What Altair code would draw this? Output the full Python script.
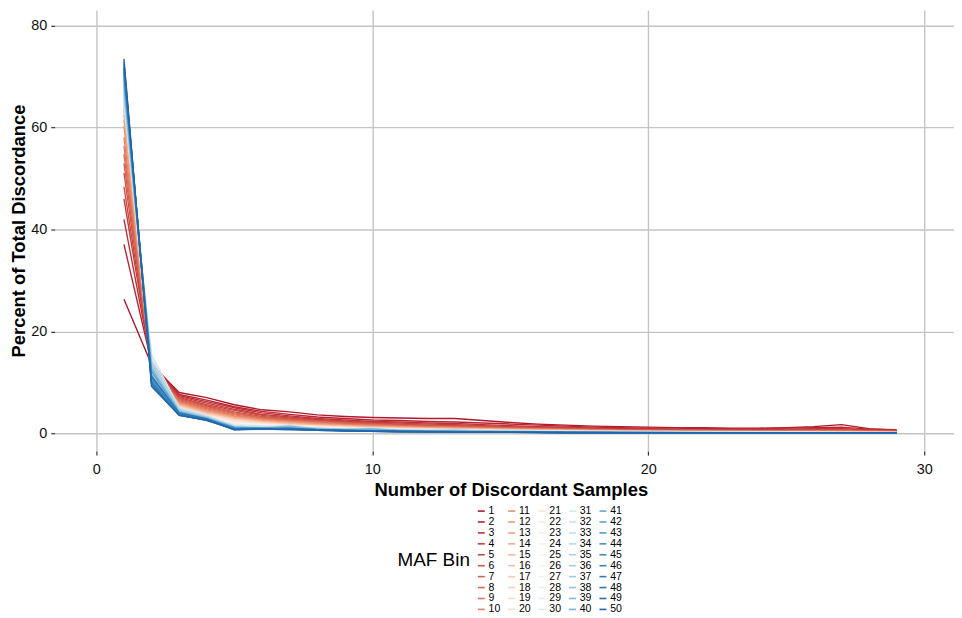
import altair as alt
import pandas as pd

# x positions: number of discordant samples
samples = list(range(1, 30))

# Percent of total discordance per MAF bin
maf_bin_1 = [26.3, 13.5, 8.0, 7.0, 5.6, 4.6, 4.2, 3.6, 3.3, 3.1, 3.0, 2.9, 2.9, 2.5, 2.1, 1.8, 1.6, 1.4, 1.3, 1.2, 1.1, 1.1, 1.0, 1.0, 1.1, 1.3, 1.7, 0.9, 0.6]
maf_bin_2 = [37.1, 13.8, 7.6, 6.5, 5.2, 4.3, 3.7, 3.2, 2.9, 2.6, 2.5, 2.3, 2.2, 2.0, 1.8, 1.6, 1.4, 1.2, 1.1, 1.0, 1.0, 0.9, 0.9, 0.9, 1.0, 1.1, 1.2, 0.8, 0.7]
maf_bin_3 = [42.0, 13.6, 7.4, 6.2, 5.0, 4.0, 3.4, 2.9, 2.6, 2.3, 2.2, 2.0, 1.9, 1.7, 1.5, 1.3, 1.2, 1.0, 0.9, 0.9, 0.8, 0.8, 0.8, 0.8, 0.8, 0.9, 0.9, 0.7, 0.6]
maf_bin_4 = [46.0, 13.4, 7.2, 5.9, 4.7, 3.7, 3.2, 2.7, 2.4, 2.1, 2.0, 1.8, 1.7, 1.5, 1.3, 1.2, 1.1, 0.9, 0.8, 0.8, 0.7, 0.7, 0.7, 0.7, 0.7, 0.8, 0.8, 0.6, 0.5]
maf_bin_5 = [48.4, 13.2, 7.0, 5.6, 4.5, 3.5, 3.0, 2.5, 2.2, 2.0, 1.8, 1.6, 1.5, 1.4, 1.2, 1.1, 1.0, 0.8, 0.7, 0.7, 0.7, 0.6, 0.6, 0.6, 0.6, 0.7, 0.7, 0.5, 0.5]
maf_bin_6 = [51.1, 13.0, 6.8, 5.4, 4.2, 3.3, 2.8, 2.4, 2.1, 1.9, 1.7, 1.5, 1.4, 1.3, 1.1, 1.0, 0.9, 0.8, 0.7, 0.6, 0.6, 0.6, 0.5, 0.5, 0.5, 0.6, 0.6, 0.5, 0.4]
maf_bin_7 = [53.0, 12.9, 6.6, 5.2, 4.0, 3.1, 2.7, 2.3, 2.0, 1.8, 1.6, 1.4, 1.3, 1.2, 1.0, 0.9, 0.8, 0.7, 0.6, 0.6, 0.5, 0.5, 0.5, 0.5, 0.5, 0.5, 0.5, 0.4, 0.4]
maf_bin_8 = [54.8, 12.8, 6.4, 5.0, 3.8, 3.0, 2.5, 2.2, 1.9, 1.7, 1.5, 1.3, 1.2, 1.1, 1.0, 0.9, 0.8, 0.7, 0.6, 0.5, 0.5, 0.5, 0.4, 0.4, 0.4, 0.5, 0.5, 0.4, 0.3]
maf_bin_9 = [56.4, 12.7, 6.2, 4.8, 3.6, 2.8, 2.4, 2.1, 1.8, 1.6, 1.4, 1.3, 1.2, 1.0, 0.9, 0.8, 0.7, 0.6, 0.5, 0.5, 0.5, 0.4, 0.4, 0.4, 0.4, 0.4, 0.4, 0.3, 0.3]
maf_bin_10 = [58.1, 12.6, 6.0, 4.6, 3.4, 2.7, 2.3, 2.0, 1.7, 1.5, 1.3, 1.2, 1.1, 1.0, 0.9, 0.8, 0.7, 0.6, 0.5, 0.5, 0.4, 0.4, 0.4, 0.4, 0.4, 0.4, 0.4, 0.3, 0.3]
maf_bin_11 = [60.3, 12.5, 5.9, 4.4, 3.3, 2.6, 2.2, 1.9, 1.6, 1.4, 1.3, 1.1, 1.0, 0.9, 0.8, 0.7, 0.6, 0.6, 0.5, 0.4, 0.4, 0.4, 0.4, 0.3, 0.3, 0.3, 0.3, 0.3, 0.3]
maf_bin_12 = [61.5, 12.4, 5.8, 4.3, 3.2, 2.5, 2.1, 1.8, 1.5, 1.3, 1.2, 1.1, 1.0, 0.9, 0.8, 0.7, 0.6, 0.5, 0.5, 0.4, 0.4, 0.4, 0.3, 0.3, 0.3, 0.3, 0.3, 0.3, 0.2]
maf_bin_13 = [62.5, 12.3, 5.7, 4.2, 3.1, 2.4, 2.0, 1.7, 1.5, 1.3, 1.2, 1.0, 0.9, 0.8, 0.7, 0.7, 0.6, 0.5, 0.5, 0.4, 0.4, 0.3, 0.3, 0.3, 0.3, 0.3, 0.3, 0.2, 0.2]
maf_bin_14 = [63.5, 12.3, 5.6, 4.1, 3.0, 2.3, 1.9, 1.6, 1.4, 1.2, 1.1, 1.0, 0.9, 0.8, 0.7, 0.6, 0.5, 0.5, 0.4, 0.4, 0.3, 0.3, 0.3, 0.3, 0.3, 0.3, 0.2, 0.2, 0.2]
maf_bin_15 = [64.0, 12.2, 5.5, 4.0, 2.9, 2.3, 1.9, 1.6, 1.4, 1.2, 1.0, 0.9, 0.8, 0.8, 0.7, 0.6, 0.5, 0.5, 0.4, 0.4, 0.3, 0.3, 0.3, 0.3, 0.3, 0.2, 0.2, 0.2, 0.2]
maf_bin_16 = [64.8, 12.2, 5.4, 3.9, 2.8, 2.2, 1.8, 1.5, 1.3, 1.1, 1.0, 0.9, 0.8, 0.7, 0.6, 0.6, 0.5, 0.4, 0.4, 0.3, 0.3, 0.3, 0.3, 0.2, 0.2, 0.2, 0.2, 0.2, 0.2]
maf_bin_17 = [65.5, 12.1, 5.3, 3.8, 2.7, 2.1, 1.7, 1.5, 1.3, 1.1, 1.0, 0.9, 0.8, 0.7, 0.6, 0.5, 0.5, 0.4, 0.4, 0.3, 0.3, 0.3, 0.2, 0.2, 0.2, 0.2, 0.2, 0.2, 0.2]
maf_bin_18 = [66.0, 12.1, 5.2, 3.7, 2.6, 2.0, 1.7, 1.4, 1.2, 1.0, 0.9, 0.8, 0.7, 0.7, 0.6, 0.5, 0.4, 0.4, 0.3, 0.3, 0.3, 0.2, 0.2, 0.2, 0.2, 0.2, 0.2, 0.2, 0.1]
maf_bin_19 = [66.5, 12.0, 5.1, 3.7, 2.6, 2.0, 1.6, 1.4, 1.2, 1.0, 0.9, 0.8, 0.7, 0.6, 0.5, 0.5, 0.4, 0.4, 0.3, 0.3, 0.2, 0.2, 0.2, 0.2, 0.2, 0.2, 0.2, 0.1, 0.1]
maf_bin_20 = [67.0, 12.0, 5.0, 3.6, 2.5, 1.9, 1.6, 1.3, 1.1, 1.0, 0.9, 0.8, 0.7, 0.6, 0.5, 0.4, 0.4, 0.3, 0.3, 0.3, 0.2, 0.2, 0.2, 0.2, 0.2, 0.2, 0.1, 0.1, 0.1]
maf_bin_21 = [67.5, 11.9, 4.9, 3.5, 2.3, 1.8, 1.5, 1.3, 1.1, 0.9, 0.8, 0.7, 0.6, 0.6, 0.5, 0.4, 0.4, 0.3, 0.3, 0.2, 0.2, 0.2, 0.2, 0.2, 0.2, 0.1, 0.1, 0.1, 0.1]
maf_bin_22 = [68.0, 11.7, 4.8, 3.4, 2.2, 1.8, 1.5, 1.2, 1.0, 0.9, 0.8, 0.7, 0.6, 0.5, 0.5, 0.4, 0.3, 0.3, 0.3, 0.2, 0.2, 0.2, 0.2, 0.2, 0.1, 0.1, 0.1, 0.1, 0.1]
maf_bin_23 = [68.5, 11.6, 4.7, 3.4, 2.1, 1.7, 1.4, 1.2, 1.0, 0.9, 0.7, 0.7, 0.6, 0.5, 0.4, 0.4, 0.3, 0.3, 0.2, 0.2, 0.2, 0.2, 0.2, 0.1, 0.1, 0.1, 0.1, 0.1, 0.1]
maf_bin_24 = [69.0, 11.5, 4.6, 3.3, 2.0, 1.7, 1.4, 1.1, 1.0, 0.8, 0.7, 0.6, 0.6, 0.5, 0.4, 0.4, 0.3, 0.3, 0.2, 0.2, 0.2, 0.2, 0.1, 0.1, 0.1, 0.1, 0.1, 0.1, 0.1]
maf_bin_25 = [69.5, 11.4, 4.5, 3.3, 2.0, 1.6, 1.3, 1.1, 0.9, 0.8, 0.7, 0.6, 0.5, 0.5, 0.4, 0.3, 0.3, 0.3, 0.2, 0.2, 0.2, 0.1, 0.1, 0.1, 0.1, 0.1, 0.1, 0.1, 0.1]
maf_bin_26 = [69.8, 11.3, 4.5, 3.2, 1.9, 1.6, 1.3, 1.1, 0.9, 0.8, 0.7, 0.6, 0.5, 0.4, 0.4, 0.3, 0.3, 0.2, 0.2, 0.2, 0.2, 0.1, 0.1, 0.1, 0.1, 0.1, 0.1, 0.1, 0.1]
maf_bin_27 = [70.0, 11.2, 4.4, 3.2, 1.8, 1.5, 1.3, 1.0, 0.9, 0.7, 0.6, 0.6, 0.5, 0.4, 0.4, 0.3, 0.3, 0.2, 0.2, 0.2, 0.1, 0.1, 0.1, 0.1, 0.1, 0.1, 0.1, 0.1, 0.1]
maf_bin_28 = [70.3, 11.1, 4.4, 3.1, 1.8, 1.5, 1.2, 1.0, 0.8, 0.7, 0.6, 0.5, 0.5, 0.4, 0.3, 0.3, 0.3, 0.2, 0.2, 0.2, 0.1, 0.1, 0.1, 0.1, 0.1, 0.1, 0.1, 0.1, 0.1]
maf_bin_29 = [70.6, 11.0, 4.3, 3.1, 1.7, 1.4, 1.2, 1.0, 0.8, 0.7, 0.6, 0.5, 0.5, 0.4, 0.3, 0.3, 0.2, 0.2, 0.2, 0.2, 0.1, 0.1, 0.1, 0.1, 0.1, 0.1, 0.1, 0.1, 0.1]
maf_bin_30 = [71.0, 10.9, 4.3, 3.0, 1.6, 1.4, 1.2, 0.9, 0.8, 0.7, 0.6, 0.5, 0.4, 0.4, 0.3, 0.3, 0.2, 0.2, 0.2, 0.1, 0.1, 0.1, 0.1, 0.1, 0.1, 0.1, 0.1, 0.1, 0.1]
maf_bin_31 = [64.5, 15.5, 5.0, 3.5, 1.5, 1.3, 1.2, 1.0, 0.9, 0.8, 0.7, 0.6, 0.6, 0.5, 0.5, 0.4, 0.4, 0.3, 0.3, 0.3, 0.2, 0.2, 0.2, 0.2, 0.2, 0.2, 0.1, 0.1, 0.1]
maf_bin_32 = [65.5, 14.8, 4.8, 3.4, 1.4, 1.3, 1.1, 1.0, 0.8, 1.1, 0.6, 0.6, 0.5, 0.5, 0.4, 0.4, 0.3, 0.3, 0.3, 0.2, 0.2, 0.2, 0.2, 0.2, 0.1, 0.1, 0.1, 0.1, 0.1]
maf_bin_33 = [66.0, 14.2, 4.6, 3.3, 1.3, 1.2, 1.6, 0.9, 0.8, 0.7, 0.6, 0.5, 0.5, 0.4, 0.6, 0.4, 0.3, 0.3, 0.2, 0.2, 0.2, 0.2, 0.2, 0.1, 0.1, 0.1, 0.1, 0.1, 0.1]
maf_bin_34 = [67.0, 13.5, 4.5, 3.1, 1.2, 1.2, 1.0, 0.9, 0.8, 0.7, 0.6, 0.5, 0.5, 0.4, 0.4, 0.3, 0.3, 0.3, 0.2, 0.2, 0.2, 0.2, 0.1, 0.1, 0.1, 0.1, 0.1, 0.1, 0.1]
maf_bin_35 = [66.5, 14.0, 4.7, 3.2, 1.4, 1.1, 1.2, 1.0, 0.7, 0.8, 0.6, 0.5, 0.7, 0.4, 0.4, 0.3, 0.3, 0.3, 0.2, 0.2, 0.2, 0.1, 0.1, 0.1, 0.1, 0.1, 0.1, 0.1, 0.1]
maf_bin_36 = [68.0, 13.0, 4.2, 3.0, 1.1, 1.1, 1.0, 0.8, 0.7, 0.6, 0.5, 0.5, 0.4, 0.4, 0.3, 0.3, 0.3, 0.2, 0.2, 0.2, 0.2, 0.1, 0.1, 0.1, 0.1, 0.1, 0.1, 0.1, 0.1]
maf_bin_37 = [67.5, 12.5, 4.4, 3.1, 1.2, 1.0, 1.1, 0.9, 0.8, 0.6, 0.5, 0.5, 0.4, 0.4, 0.3, 0.3, 0.2, 0.2, 0.2, 0.2, 0.1, 0.1, 0.1, 0.1, 0.1, 0.1, 0.1, 0.1, 0.1]
maf_bin_38 = [69.0, 12.0, 4.0, 2.9, 1.0, 1.1, 0.9, 0.8, 0.6, 0.6, 0.5, 0.4, 0.4, 0.3, 0.3, 0.3, 0.2, 0.2, 0.2, 0.1, 0.1, 0.1, 0.1, 0.1, 0.1, 0.1, 0.1, 0.1, 0.1]
maf_bin_39 = [68.5, 12.8, 4.3, 3.0, 1.1, 1.0, 1.4, 0.8, 0.7, 0.9, 0.5, 0.5, 0.4, 0.4, 0.3, 0.3, 0.2, 0.2, 0.2, 0.2, 0.1, 0.1, 0.1, 0.1, 0.1, 0.1, 0.1, 0.1, 0.1]
maf_bin_40 = [70.0, 11.5, 3.9, 2.8, 0.9, 1.0, 0.9, 0.7, 0.6, 0.5, 0.5, 0.4, 0.4, 0.3, 0.3, 0.2, 0.2, 0.2, 0.2, 0.1, 0.1, 0.1, 0.1, 0.1, 0.1, 0.1, 0.1, 0.1, 0.1]
maf_bin_41 = [69.5, 11.0, 3.8, 2.8, 1.0, 0.9, 1.0, 0.8, 0.6, 0.6, 0.5, 0.4, 0.4, 0.3, 0.3, 0.3, 0.2, 0.2, 0.2, 0.1, 0.1, 0.1, 0.1, 0.1, 0.1, 0.1, 0.1, 0.1, 0.1]
maf_bin_42 = [70.5, 12.2, 4.1, 2.9, 1.2, 1.0, 0.8, 0.7, 0.6, 0.5, 0.4, 0.4, 0.3, 0.3, 0.3, 0.2, 0.2, 0.2, 0.1, 0.1, 0.1, 0.1, 0.1, 0.1, 0.1, 0.1, 0.1, 0.1, 0.1]
maf_bin_43 = [71.0, 10.5, 3.7, 2.7, 0.9, 0.9, 1.0, 0.7, 0.5, 0.5, 0.4, 0.4, 0.3, 0.3, 0.2, 0.2, 0.2, 0.2, 0.1, 0.1, 0.1, 0.1, 0.1, 0.1, 0.1, 0.1, 0.1, 0.1, 0.1]
maf_bin_44 = [70.8, 10.8, 3.9, 2.8, 0.8, 1.0, 0.8, 0.7, 0.6, 0.5, 0.4, 0.4, 0.3, 0.3, 0.3, 0.2, 0.2, 0.2, 0.1, 0.1, 0.1, 0.1, 0.1, 0.1, 0.1, 0.1, 0.1, 0.1, 0.1]
maf_bin_45 = [71.5, 10.0, 3.6, 2.6, 0.9, 0.9, 0.9, 0.6, 0.5, 0.4, 0.4, 0.3, 0.3, 0.3, 0.2, 0.2, 0.2, 0.1, 0.1, 0.1, 0.1, 0.1, 0.1, 0.1, 0.1, 0.1, 0.1, 0.1, 0.1]
maf_bin_46 = [72.0, 10.2, 3.8, 2.7, 0.8, 0.8, 0.9, 0.7, 0.5, 0.5, 0.4, 0.3, 0.3, 0.3, 0.2, 0.2, 0.2, 0.1, 0.1, 0.1, 0.1, 0.1, 0.1, 0.1, 0.1, 0.1, 0.1, 0.1, 0.1]
maf_bin_47 = [72.5, 9.8, 3.5, 2.6, 1.0, 0.9, 0.8, 0.6, 0.6, 0.4, 0.3, 0.3, 0.3, 0.2, 0.2, 0.2, 0.1, 0.1, 0.1, 0.1, 0.1, 0.1, 0.1, 0.1, 0.1, 0.1, 0.1, 0.1, 0.1]
maf_bin_48 = [71.8, 11.2, 4.0, 2.8, 0.7, 0.9, 1.0, 0.7, 0.5, 0.5, 0.4, 0.3, 0.3, 0.3, 0.2, 0.2, 0.1, 0.1, 0.1, 0.1, 0.1, 0.1, 0.1, 0.1, 0.1, 0.1, 0.1, 0.1, 0.1]
maf_bin_49 = [73.0, 9.5, 3.6, 2.5, 0.8, 0.8, 0.8, 0.6, 0.5, 0.4, 0.3, 0.3, 0.3, 0.2, 0.2, 0.2, 0.1, 0.1, 0.1, 0.1, 0.1, 0.1, 0.1, 0.1, 0.1, 0.1, 0.1, 0.1, 0.1]
maf_bin_50 = [73.5, 9.2, 3.5, 2.6, 0.7, 0.8, 0.7, 0.6, 0.5, 0.4, 0.3, 0.3, 0.2, 0.2, 0.2, 0.1, 0.1, 0.1, 0.1, 0.1, 0.1, 0.1, 0.1, 0.1, 0.1, 0.1, 0.1, 0.1, 0.1]

series = [
    maf_bin_1, maf_bin_2, maf_bin_3, maf_bin_4, maf_bin_5, maf_bin_6, maf_bin_7, maf_bin_8, maf_bin_9, maf_bin_10,
    maf_bin_11, maf_bin_12, maf_bin_13, maf_bin_14, maf_bin_15, maf_bin_16, maf_bin_17, maf_bin_18, maf_bin_19, maf_bin_20,
    maf_bin_21, maf_bin_22, maf_bin_23, maf_bin_24, maf_bin_25, maf_bin_26, maf_bin_27, maf_bin_28, maf_bin_29, maf_bin_30,
    maf_bin_31, maf_bin_32, maf_bin_33, maf_bin_34, maf_bin_35, maf_bin_36, maf_bin_37, maf_bin_38, maf_bin_39, maf_bin_40,
    maf_bin_41, maf_bin_42, maf_bin_43, maf_bin_44, maf_bin_45, maf_bin_46, maf_bin_47, maf_bin_48, maf_bin_49, maf_bin_50,
]
bin_names = [str(i) for i in range(1, 51)]

rows = []
for name, vals in zip(bin_names, series):
    for x, v in zip(samples, vals):
        rows.append({"samples": x, "pct": v, "bin": name})
df = pd.DataFrame(rows)

# RdBu ramp (red -> blue) interpolated to 50 colours
anchors = ["#B2182B", "#D6604D", "#F4A582", "#FDDBC7", "#F7F7F7",
           "#D1E5F0", "#92C5DE", "#4393C3", "#2166AC"]


def hex2rgb(h):
    return [int(h[i:i + 2], 16) for i in (1, 3, 5)]


palette = []
n = len(bin_names)
for i in range(n):
    t = i / (n - 1) * (len(anchors) - 1)
    k = min(int(t), len(anchors) - 2)
    f = t - k
    a, b = hex2rgb(anchors[k]), hex2rgb(anchors[k + 1])
    c = [round(a[j] + (b[j] - a[j]) * f) for j in range(3)]
    palette.append("#%02X%02X%02X" % tuple(c))

FONT = "Liberation Sans"

chart = alt.Chart(df).mark_line(strokeWidth=1.4, clip=True).encode(
    x=alt.X("samples:Q", title="Number of Discordant Samples",
            scale=alt.Scale(domain=[-1.51, 31.08], nice=False, zero=False),
            axis=alt.Axis(values=[0, 10, 20, 30], format="d")),
    y=alt.Y("pct:Q", title="Percent of Total Discordance",
            scale=alt.Scale(domain=[-3.51, 83.12], nice=False, zero=False),
            axis=alt.Axis(values=[0, 20, 40, 60, 80], format="d")),
    color=alt.Color("bin:N", title="MAF Bin",
                    scale=alt.Scale(domain=bin_names, range=palette),
                    legend=alt.Legend(
                        orient="none", legendX=345, legendY=499,
                        columns=5, direction="vertical", symbolLimit=0,
                        titleOrient="left", titleAnchor="middle",
                        titleBaseline="middle",
                        titleFontSize=19, titleFontWeight="normal",
                        titleColor="#000000", titleFont=FONT, titlePadding=6,
                        labelFontSize=10.6, labelFont=FONT, labelColor="#000000",
                        labelOffset=2,
                        symbolType="stroke", symbolSize=49, symbolStrokeWidth=1.6,
                        rowPadding=0, columnPadding=3.6,
                    )),
    detail="bin:N",
).properties(
    width=905, height=444,
    autosize=alt.AutoSizeParams(type="none"),
    padding={"left": 47, "top": 0, "right": 0, "bottom": 165},
).configure_view(
    stroke=None,
).configure_axis(
    domain=False,
    grid=True, gridColor="#C4C4C4", gridWidth=1.4,
    tickColor="#333333", tickSize=4, tickWidth=1.2,
    labelFont=FONT, labelFontSize=14.5, labelColor="#111111", labelPadding=4,
    titleFont=FONT, titleFontSize=18.5, titleFontWeight="bold", titleColor="#000000",
).configure_axisY(
    titlePadding=2,
).configure_axisX(
    titlePadding=4, labelPadding=8, titleX=459,
)

chart.save("out.html", embed_options={"renderer": "svg", "actions": False})
